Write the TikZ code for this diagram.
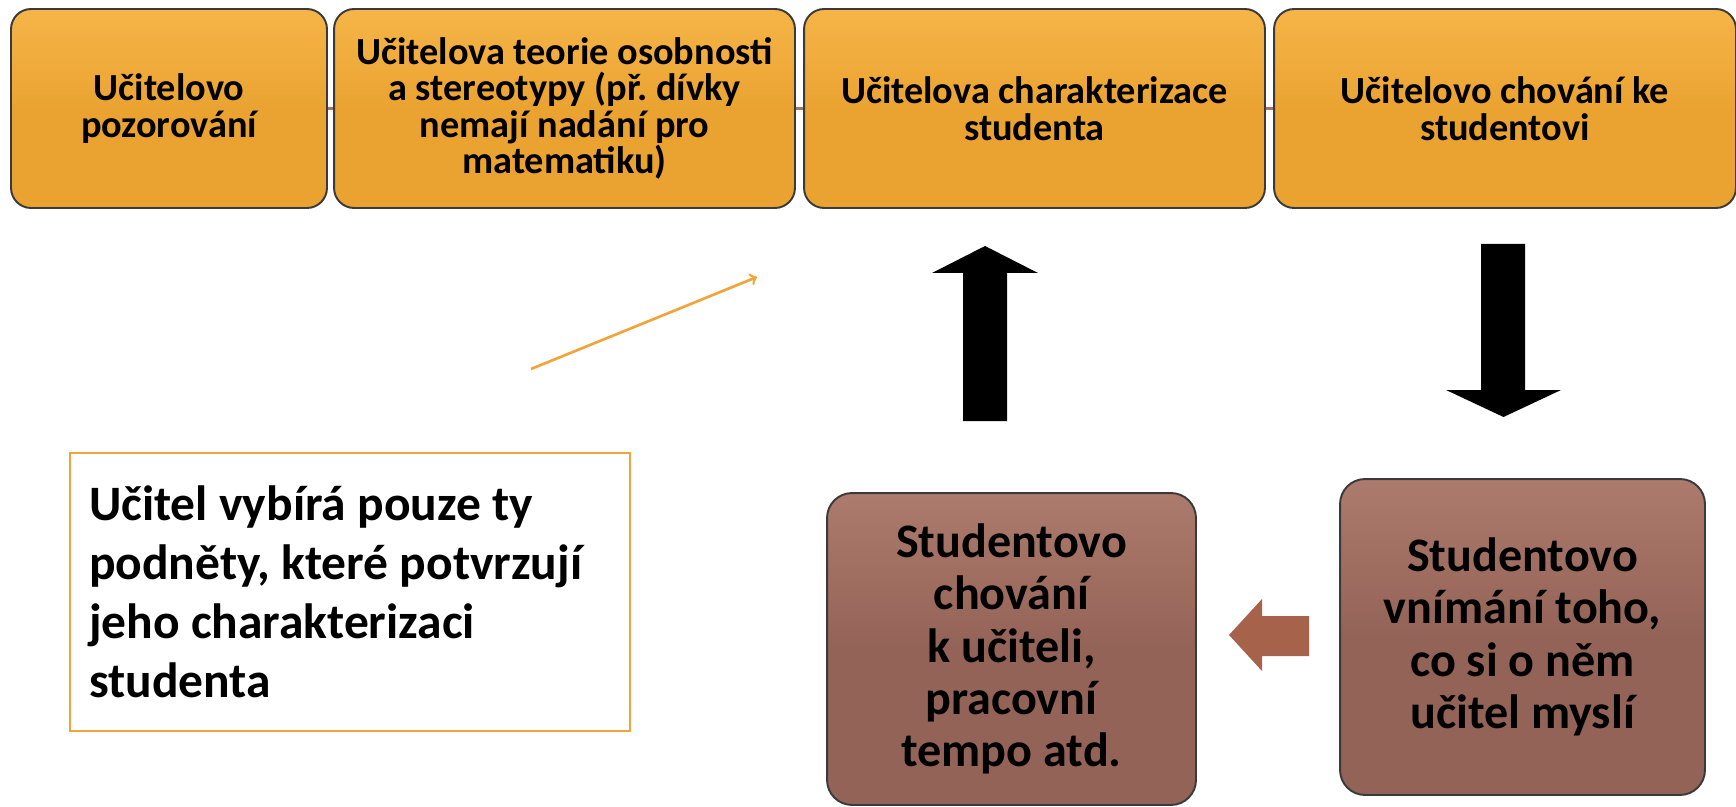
\documentclass[tikz,border=0pt]{standalone}
\usepackage{fontspec}
\setmainfont{Carlito}
\usepackage{tikz}
\usetikzlibrary{arrows}
\frenchspacing

\definecolor{boxedge}{HTML}{3A3A3A}
\definecolor{boxorange}{HTML}{EAA331}
\definecolor{orangetop}{HTML}{F6B548}
\definecolor{boxbrown}{HTML}{946357}
\definecolor{browntop}{HTML}{AD7B6D}
\definecolor{arrowbrown}{HTML}{A6624B}
\definecolor{lineorange}{HTML}{F2A33A}
\definecolor{linkbrown}{HTML}{A8735E}

\tikzset{
  topbox/.style={draw=boxedge, line width=1.1pt, rounded corners=0.4cm,
    top color=orangetop, bottom color=boxorange, middle color=boxorange,
    minimum height=3.98cm, align=flush center, inner sep=2pt,
    font=\bfseries\fontsize{21.8}{20.8}\selectfont},
  studbox/.style={draw=boxedge, line width=1.1pt, rounded corners=0.5cm,
    top color=browntop, bottom color=boxbrown, middle color=boxbrown,
    align=flush center, inner sep=2pt,
    font=\bfseries\fontsize{27.4}{29.8}\selectfont},
  notebox/.style={draw=lineorange, line width=1pt, minimum width=11.2cm,
    minimum height=5.56cm, text width=10.44cm, align=flush left,
    font=\bfseries\fontsize{28.2}{33.6}\selectfont},
  link/.style={draw=linkbrown, line width=1.5pt},
  blockarrow/.style={fill=black},
}

\begin{document}
\begin{tikzpicture}[x=0.02cm, y=-0.02cm]
\useasboundingbox (0,0) rectangle (1736,807);

\node[topbox, minimum width=6.32cm] (obs) at (169,108.5) {Učitelovo\\pozorování};
\node[topbox, minimum width=9.22cm] (theory) at (564.5,108.5) {Učitelova teorie osobnosti\\a stereotypy (př. dívky\\nemají nadání pro\\matematiku)};
\node[topbox, minimum width=9.22cm] (charak) at (1034.5,108.5) {Učitelova charakterizace\\studenta};
\node[topbox, minimum width=9.24cm] (behav) at (1505,108.5) {Učitelovo chování ke\\studentovi};

\draw[link] (obs) -- (theory);
\draw[link] (theory) -- (charak);
\draw[link] (charak) -- (behav);

\node[studbox, minimum width=7.38cm, minimum height=6.24cm] (studact) at (1011.5,649) {Studentovo\\chování\\k učiteli,\\pracovní\\tempo atd.};
\node[studbox, minimum width=7.3cm, minimum height=6.32cm] (studperc) at (1522.5,637) {Studentovo\\vnímání toho,\\co si o něm\\učitel myslí};

\node[notebox] (select) at (350,592) {Učitel vybírá pouze ty\\podněty, které potvrzují\\jeho charakterizaci\\studenta};

\coordinate (selfrom) at (531,369);
\coordinate (selto) at (757,277);
\draw[->, lineorange, line width=1.5pt] (selfrom) -- (selto);

\fill[blockarrow] (963,421) -- (963,273) -- (932,273) -- (985,246) -- (1038,273) -- (1007,273) -- (1007,421) -- cycle;
\fill[blockarrow] (1481,244) -- (1481,390) -- (1446,390) -- (1503.5,417) -- (1561,390) -- (1525,390) -- (1525,244) -- cycle;
\fill[arrowbrown] (1309,616) -- (1262,616) -- (1262,599) -- (1229,635) -- (1262,671) -- (1262,656) -- (1309,656) -- cycle;

\end{tikzpicture}
\end{document}
